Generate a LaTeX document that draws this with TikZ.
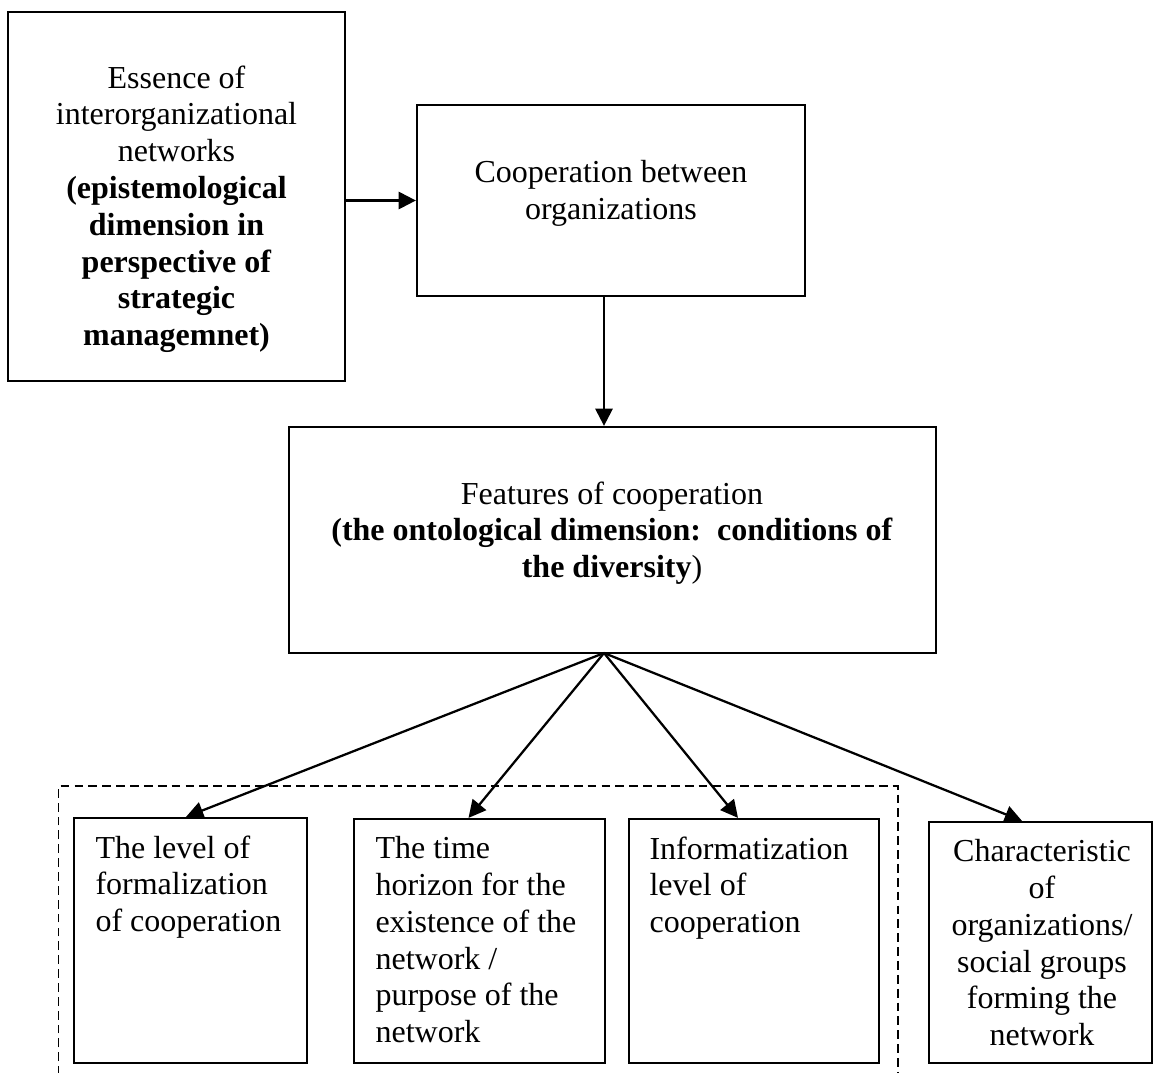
\documentclass[tikz,border=0pt]{standalone}
\usepackage{fontspec}
\setmainfont{Liberation Serif}
\usetikzlibrary{arrows.meta,calc,fit}
\tikzset{
  box/.style={
    draw,
    line width=0.85pt,
    inner sep=0pt
  },
  lbl/.style={
    inner sep=0pt,
    font=\fontsize{12pt}{13.8pt}\selectfont
  },
  link/.style={
    line width=0.85pt,
    -{Triangle[length=6.5pt,width=6.5pt]}
  },
  dashgroup/.style={
    line width=0.65pt,
    dash pattern=on 3.3pt off 1.9pt
  }
}

\begin{document}
\begin{tikzpicture}[x=0.375pt,y=-0.375pt]
  \useasboundingbox (0,0) rectangle (1154,1072);
  % upper boxes
  \node[box,fit={(8,12) (345,381)}] (ess) {};
  \node[lbl,anchor=north,align=center] (esst) at (176.5,65) {Essence of\\interorganizational\\networks\\
    \textbf{(epistemological}\\\textbf{dimension in}\\\textbf{perspective of}\\\textbf{strategic}\\\textbf{managemnet)}};
  \node[box,fit={(417,105) (805,296)}] (coop) {};
  \node[lbl,anchor=north,align=center] (coopt) at (611,160) {Cooperation between\\organizations};
  \node[box,fit={(289,427) (936,653)}] (feat) {};
  \node[lbl,anchor=north,align=center] (featt) at (612,481) {Features of cooperation\\
    \textbf{(the ontological dimension:\ \ conditions of}\\\textbf{the diversity})};
  \coordinate (fork) at (604,653);
  % lower boxes
  \node[box,fit={(74,818) (307,1063)}] (lev) {};
  \node[lbl,anchor=north west,align=left] (levt) at (95,835) {The level of\\formalization\\of cooperation};
  \node[box,fit={(354,819) (605,1063)}] (hor) {};
  \node[lbl,anchor=north west,align=left] (hort) at (375,836) {The time\\horizon for the\\existence of the\\network /\\purpose of the\\network};
  \node[box,fit={(629,819) (879,1063)}] (inf) {};
  \node[lbl,anchor=north west,align=left] (inft) at (649,836) {Informatization\\level of\\cooperation};
  \node[box,fit={(929,822) (1152,1063)}] (org) {};
  \node[lbl,anchor=north,align=center] (orgt) at (1042,839) {Characteristic\\of\\organizations/\\social groups\\forming the\\network};
  % dashed frame
  \draw[dashgroup] (58.5,1075) |- (898,786) -- (898,1075);
  % arrows
  \draw[link] (coop.west -| ess.east) -- (coop.west);
  \draw[link] (fork |- coop.south) -- (fork |- feat.north);
  \draw[link] (fork) -- ($(lev.north)+(-4.5,0)$);
  \draw[link] (fork) -- ($(hor.north)+(-11,0)$);
  \draw[link] (fork) -- ($(inf.north)+(-16,0)$);
  \draw[link] (fork) -- ($(org.north)+(-18.5,0)$);
\end{tikzpicture}
\end{document}
